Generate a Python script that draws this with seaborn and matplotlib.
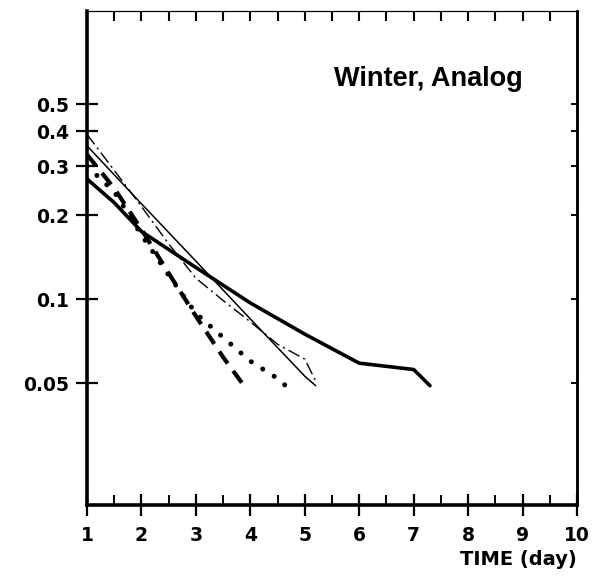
import matplotlib
matplotlib.use("Agg")
import matplotlib.pyplot as plt
import seaborn as sns
import numpy as np
import pandas as pd
from matplotlib.ticker import FixedLocator, NullLocator, FixedFormatter

# ---- data ----
days_thick = [1, 1.5, 2, 3, 4, 5, 6, 7, 7.3]
err_thick = [0.27, 0.222, 0.175, 0.13, 0.097, 0.075, 0.059, 0.056, 0.049]

days_thin = [1, 2, 3, 4, 5, 5.2]
err_thin = [0.355, 0.22, 0.137, 0.085, 0.053, 0.049]

days_dashdot = [1, 1.5, 2, 2.5, 3, 3.5, 4, 4.5, 5, 5.2]
err_dashdot = [0.39, 0.29, 0.215, 0.158, 0.119, 0.099, 0.083, 0.069, 0.061, 0.051]

days_dashed = [1, 1.5, 2, 2.5, 3, 3.5, 3.85]
err_dashed = [0.33, 0.25, 0.178, 0.124, 0.087, 0.062, 0.05]

days_dotted = [1, 1.5, 2, 2.5, 3, 3.5, 4, 4.5, 4.7]
err_dotted = [0.30, 0.243, 0.17, 0.122, 0.089, 0.073, 0.060, 0.052, 0.048]

y_ticks = [0.05, 0.1, 0.2, 0.3, 0.4, 0.5]
y_ticklabels = ["0.05", "0.1", "0.2", "0.3", "0.4", "0.5"]
x_ticks = [1, 2, 3, 4, 5, 6, 7, 8, 9, 10]
title_text = "Winter, Analog"
xlabel_text = "TIME (day)"

sns.set_theme(style="white")
plt.rcParams["font.family"] = ["DejaVu Sans"]
plt.rcParams["text.color"] = "black"
plt.rcParams["axes.labelcolor"] = "black"
plt.rcParams["xtick.color"] = "black"
plt.rcParams["ytick.color"] = "black"

fig = plt.figure(figsize=(5.94, 5.77), dpi=100)
ax = fig.add_axes([87/594, 1 - 505/577, 490/594, 494/577])

series = [
    (days_thick, err_thick, dict(lw=2.6, linestyle="-")),
    (days_thin, err_thin, dict(lw=1.1, linestyle="-")),
    (days_dashdot, err_dashdot, dict(lw=1.0, linestyle=(0, (9, 3, 1.5, 3)))),
    (days_dashed, err_dashed, dict(lw=3.0, linestyle=(0, (3.5, 2.2)))),
    (days_dotted, err_dotted, dict(lw=3.6, linestyle=(0, (0.01, 2.7)), solid_capstyle="round", dash_capstyle="round")),
]
for xs, ys, kw in series:
    df = pd.DataFrame({"day": xs, "err": ys})
    sns.lineplot(data=df, x="day", y="err", ax=ax, color="black",
                 estimator=None, legend=False, **kw)

ax.set_yscale("log")
ax.set_xlim(1, 10)
ax.set_ylim(0.0183, 1.08)

# bottom/left ticks
ax.xaxis.set_major_locator(FixedLocator(x_ticks))
ax.xaxis.set_minor_locator(FixedLocator(np.arange(1.5, 10, 1.0)))
ax.yaxis.set_major_locator(FixedLocator(y_ticks))
ax.yaxis.set_major_formatter(FixedFormatter(y_ticklabels))
ax.yaxis.set_minor_locator(NullLocator())
ax.tick_params(axis="x", which="major", direction="inout", length=16, width=1.6,
               pad=7, labelsize=13.5, bottom=True, top=False, colors="black")
ax.tick_params(axis="x", which="minor", direction="in", length=7, width=1.4,
               bottom=True, top=False, colors="black")
ax.tick_params(axis="y", which="major", direction="inout", length=16, width=1.6,
               pad=5, labelsize=13.5, left=True, right=False, colors="black")
for lab in ax.get_xticklabels() + ax.get_yticklabels():
    lab.set_fontweight("bold")

# top ticks (every half day, inside)
top = ax.secondary_xaxis("top")
top.xaxis.set_major_locator(FixedLocator(np.arange(1.5, 10, 0.5)))
top.xaxis.set_minor_locator(NullLocator())
top.tick_params(direction="in", length=7, width=1.5, labeltop=False, colors="black")
top.spines["top"].set_linewidth(0.8)
top.spines["top"].set_color("black")

# right ticks (inside, short)
right = ax.secondary_yaxis("right")
right.yaxis.set_major_locator(FixedLocator(y_ticks))
right.yaxis.set_minor_locator(NullLocator())
right.tick_params(direction="in", length=4, width=1.4, labelright=False, colors="black")
right.spines["right"].set_linewidth(1.8)
right.spines["right"].set_color("black")

for s in ["left", "bottom"]:
    ax.spines[s].set_linewidth(2.6)
ax.spines["right"].set_linewidth(1.8)
ax.spines["top"].set_linewidth(0.8)
for s in ax.spines.values():
    s.set_color("black")

ax.set_xlabel(xlabel_text, loc="right", fontsize=14, fontweight="bold", labelpad=4,
              color="black")
ax.set_ylabel("")

ax.text((523 - 87)/490, (505 - 86)/494, title_text, transform=ax.transAxes,
        ha="right", va="baseline", fontsize=19.5, fontweight="bold", color="black",
        family=["Liberation Sans", "DejaVu Sans"])

fig.savefig("out.png", dpi=100)
